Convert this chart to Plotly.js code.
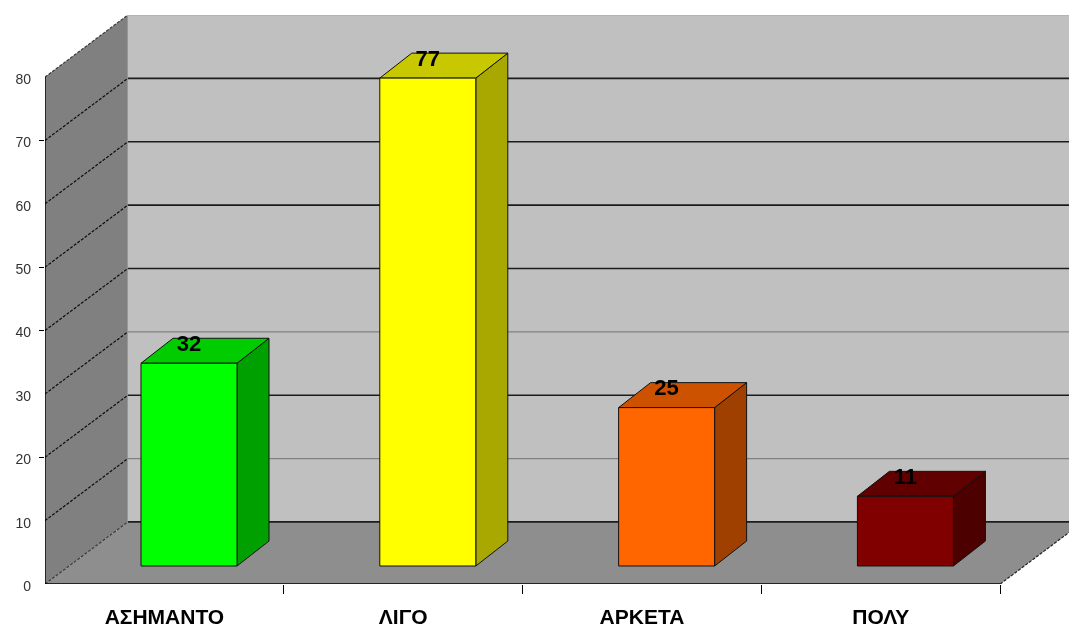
<!DOCTYPE html>
<html>
<head>
<meta charset="utf-8">
<script src="https://cdn.plot.ly/plotly-3.0.1.min.js"></script>
<style>html,body{margin:0;padding:0;background:#fff}#chart{width:1069px;height:628px;filter:blur(0.7px)}</style>
</head>
<body>
<div id="chart"></div>
<script>
const categories = ['ΑΣΗΜΑΝΤΟ', 'ΛΙΓΟ', 'ΑΡΚΕΤΑ', 'ΠΟΛΥ'];
const values = [32, 77, 25, 11];
const faceColors = ['#00ff00', '#ffff00', '#ff6600', '#800000'];
const topColors = ['#00cc00', '#c8c800', '#cc5200', '#600000'];
const sideColors = ['#00a000', '#a8a800', '#a04000', '#4c0000'];
const yTicks = [0, 10, 20, 30, 40, 50, 60, 70, 80];
const yTickMarks = [20, 40, 50, 70];
const xTickMarks = [1, 2, 3, 4];
const darkGrid = [0, 20, 40, 50, 60, 70];
const lightGrid = [10, 30];

// oblique projection constants, in axis units
const depthX = 0.347, depthY = 9.8;
const barW = 0.402, barOffX = 0.103, barBase = 2.84, barDX = 0.134, barDY = 3.94;
const yMax = 80 + depthY, xMax = 4.288, n = categories.length;
const fontFamily = 'Liberation Sans, Arial, sans-serif';

function poly(xs, ys, fill, line, width, dash) {
  return {type: 'scatter', mode: line ? 'lines' : 'none', x: xs.concat(xs[0]), y: ys.concat(ys[0]),
    fill: 'toself', fillcolor: fill, line: {color: line || fill, width: width || 1, dash: dash || 'solid'},
    hoverinfo: 'skip', showlegend: false};
}
function seg(xs, ys, color, width, dash) {
  return {type: 'scatter', mode: 'lines', x: xs, y: ys, line: {color, width, dash: dash || 'solid'},
    hoverinfo: 'skip', showlegend: false};
}

const traces = [];
// walls and floor
traces.push(poly([0, depthX, depthX, 0], [0, depthY, 80 + depthY, 80], '#808080'));
traces.push(poly([depthX, xMax, xMax, depthX], [depthY, depthY, yMax, yMax], '#c0c0c0'));
traces.push(poly([0, n, n + depthX, depthX], [0, 0, depthY, depthY], '#8e8e8e'));
// gridlines
darkGrid.forEach(v => traces.push(seg([depthX, xMax], [v + depthY, v + depthY], '#1c1c1c', 1.6)));
lightGrid.forEach(v => traces.push(seg([depthX, xMax], [v + depthY, v + depthY], '#808080', 1.2)));
traces.push(seg([depthX, xMax], [yMax, yMax], '#a8a8a8', 1));
yTicks.forEach(v => {
  const edge = v === 0 || v === 80;
  traces.push(seg([0, depthX], [v, v + depthY], edge ? '#3a3a3a' : '#0c0c0c', 1.2, '3px,1.5px'));
});
traces.push(seg([n, n + depthX], [0, depthY], '#222222', 1.2, '3px,1.5px'));
// axis lines
traces.push(seg([0, 0], [0, 80], '#000000', 1.4));
traces.push(seg([0, n], [0, 0], '#000000', 1.6));
// bars
values.forEach((v, i) => {
  const x0 = i + 0.5 + barOffX - barW / 2, x1 = x0 + barW;
  const y0 = barBase, y1 = barBase + v;
  traces.push(poly([x1, x1 + barDX, x1 + barDX, x1], [y0, y0 + barDY, y1 + barDY, y1], sideColors[i], '#111111', 1));
  traces.push(poly([x0, x1, x1 + barDX, x0 + barDX], [y1, y1, y1 + barDY, y1 + barDY], topColors[i], '#111111', 1));
  traces.push(poly([x0, x1, x1, x0], [y0, y0, y1, y1], faceColors[i], '#111111', 1));
});
// value labels
traces.push({type: 'scatter', mode: 'text',
  x: values.map((v, i) => i + 0.5 + barOffX),
  y: values.map(v => barBase + v + 2.85),
  text: values.map(String), textposition: 'middle center',
  textfont: {family: fontFamily, size: 22, color: '#000000', weight: 700},
  hoverinfo: 'skip', showlegend: false, cliponaxis: false});

const layout = {
  width: 1069, height: 628, showlegend: false, autosize: false,
  margin: {l: 44.5, r: 0, t: 15, b: 44, pad: 0},
  paper_bgcolor: '#ffffff', plot_bgcolor: 'rgba(0,0,0,0)',
  xaxis: {range: [0, xMax], showgrid: false, zeroline: false, showline: false, fixedrange: true,
    tickmode: 'array', tickvals: categories.map((c, i) => i + 0.5), ticktext: categories,
    ticks: '', ticklabelstandoff: 18,
    tickfont: {family: fontFamily, size: 21, color: '#000000', weight: 700},
    minor: {tickmode: 'array', tickvals: xTickMarks, ticks: 'outside', ticklen: 9, tickcolor: '#000000', tickwidth: 1.2, showgrid: false}},
  yaxis: {range: [0, yMax], showgrid: false, zeroline: false, showline: false, fixedrange: true,
    tickmode: 'array', tickvals: yTicks, ticktext: yTicks.map(String),
    ticks: '', ticklabelstandoff: 13, ticklabelshift: 2,
    tickfont: {family: fontFamily, size: 14, color: '#333333'},
    minor: {tickmode: 'array', tickvals: yTickMarks, ticks: 'outside', ticklen: 5, tickcolor: '#000000', tickwidth: 1.2, showgrid: false}}
};
Plotly.newPlot('chart', traces, layout, {displayModeBar: false, staticPlot: true});
</script>
</body>
</html>
